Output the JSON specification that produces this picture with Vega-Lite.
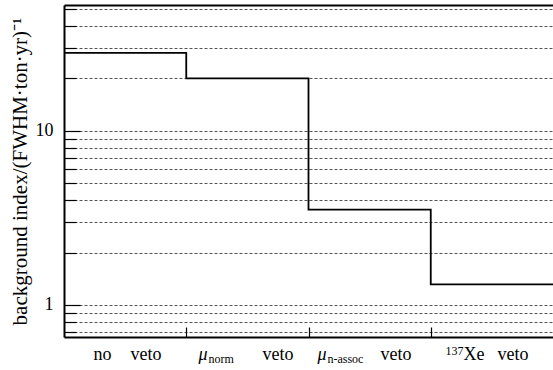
{
  "$schema": "https://vega.github.io/schema/vega-lite/v6.json",
  "width": 489,
  "height": 332,
  "autosize": {"type": "none"},
  "padding": {"left": 64, "top": 5, "right": 0, "bottom": 33},
  "background": "white",
  "config": {"view": {"stroke": null}, "font": "Liberation Serif"},
  "data": {
    "values": [
      {"veto": "no veto", "start": 0, "end": 1, "index": 28},
      {"veto": "μnorm veto", "start": 1, "end": 2, "index": 20},
      {"veto": "μn-assoc veto", "start": 2, "end": 3, "index": 3.53},
      {"veto": "137Xe veto", "start": 3, "end": 4, "index": 1.315}
    ]
  },
  "layer": [
    {
      "transform": [{"fold": ["start", "end"], "as": ["edge", "x"]}],
      "mark": {"type": "line", "color": "black", "strokeWidth": 1.8},
      "encoding": {
        "x": {
          "field": "x", "type": "quantitative",
          "scale": {"domain": [0, 4], "nice": false, "zero": false},
          "axis": {
            "orient": "bottom", "values": [1, 2, 3], "labels": false,
            "ticks": true, "tickSize": -10, "tickColor": "black", "tickWidth": 1.2,
            "domain": true, "domainColor": "black", "domainWidth": 2,
            "grid": false, "title": null
          }
        },
        "y": {
          "field": "index", "type": "quantitative",
          "scale": {"type": "log", "domain": [0.655, 52.8], "nice": false},
          "axis": {
            "orient": "left",
            "values": [0.7, 0.8, 0.9, 1, 2, 3, 4, 5, 6, 7, 8, 9, 10, 20, 30, 40, 50],
            "labelExpr": "datum.value == 1 ? '1' : datum.value == 10 ? '10' : ''",
            "labelFont": "Liberation Serif", "labelFontSize": 18, "labelColor": "black",
            "labelPadding": 27, "labelOverlap": false, "labelFlush": false, "labelBound": false,
            "tickSize": {"condition": {"test": "datum.value == 1 || datum.value == 10", "value": -16}, "value": -12},
            "tickColor": "black", "tickWidth": 1.2,
            "domainColor": "black", "domainWidth": 2,
            "grid": true, "gridDash": [3, 2], "gridColor": "#555555", "gridWidth": 1,
            "title": "background index/(FWHM·ton·yr)⁻¹",
            "titleFont": "Liberation Serif", "titleFontSize": 21, "titleFontWeight": "normal",
            "titleColor": "black", "titlePadding": 5
          }
        },
        "order": [
          {"field": "x", "type": "quantitative"},
          {"field": "index", "type": "quantitative", "sort": "descending"}
        ]
      }
    },
    {
      "mark": {"type": "rule", "opacity": 0},
      "encoding": {
        "x": {
          "field": "start", "type": "quantitative",
          "scale": {"domain": [0, 4], "nice": false, "zero": false},
          "axis": {
            "orient": "bottom", "values": [0.237, 0.54, 1.62, 2.585, 3.264, 3.542],
            "labelExpr": "datum.value < 0.4 ? 'no' : datum.value < 3 ? 'veto' : datum.value < 3.4 ? 'Xe' : 'veto'",
            "labelAlign": "left", "labelBaseline": "alphabetic", "labelPadding": 22,
            "labelFont": "Liberation Serif", "labelFontSize": 18, "labelColor": "black",
            "labelFlush": false, "labelOverlap": false, "labelBound": false,
            "ticks": false, "domain": false, "grid": false, "title": null
          }
        }
      }
    },
    {
      "mark": {"type": "rule", "opacity": 0},
      "encoding": {
        "x": {
          "field": "start", "type": "quantitative",
          "scale": {"domain": [0, 4], "nice": false, "zero": false},
          "axis": {
            "orient": "bottom", "values": [1.096, 2.07],
            "labelExpr": "'μ'",
            "labelAlign": "left", "labelBaseline": "alphabetic", "labelPadding": 22,
            "labelFont": "Liberation Serif", "labelFontSize": 18, "labelFontStyle": "italic", "labelColor": "black",
            "labelFlush": false, "labelOverlap": false, "labelBound": false,
            "ticks": false, "domain": false, "grid": false, "title": null
          }
        }
      }
    },
    {
      "mark": {"type": "rule", "opacity": 0},
      "encoding": {
        "x": {
          "field": "start", "type": "quantitative",
          "scale": {"domain": [0, 4], "nice": false, "zero": false},
          "axis": {
            "orient": "bottom", "values": [1.178, 2.151],
            "labelExpr": "datum.value < 2 ? 'norm' : 'n-assoc'",
            "labelAlign": "left", "labelBaseline": "alphabetic", "labelPadding": 25,
            "labelFont": "Liberation Serif", "labelFontSize": 12, "labelColor": "black",
            "labelFlush": false, "labelOverlap": false, "labelBound": false,
            "ticks": false, "domain": false, "grid": false, "title": null
          }
        }
      }
    },
    {
      "mark": {"type": "rule", "opacity": 0},
      "encoding": {
        "x": {
          "field": "start", "type": "quantitative",
          "scale": {"domain": [0, 4], "nice": false, "zero": false},
          "axis": {
            "orient": "bottom", "values": [3.117],
            "labelExpr": "'137'",
            "labelAlign": "left", "labelBaseline": "alphabetic", "labelPadding": 17,
            "labelFont": "Liberation Serif", "labelFontSize": 12, "labelColor": "black",
            "labelFlush": false, "labelOverlap": false, "labelBound": false,
            "ticks": false, "domain": false, "grid": false, "title": null
          }
        }
      }
    },
    {
      "mark": {"type": "rule", "opacity": 0},
      "encoding": {
        "x": {
          "field": "start", "type": "quantitative",
          "scale": {"domain": [0, 4], "nice": false, "zero": false},
          "axis": {
            "orient": "top", "labels": false, "ticks": false,
            "domain": true, "domainColor": "black", "domainWidth": 2,
            "grid": false, "title": null
          }
        }
      }
    }
  ],
  "resolve": {"axis": {"x": "independent"}}
}
